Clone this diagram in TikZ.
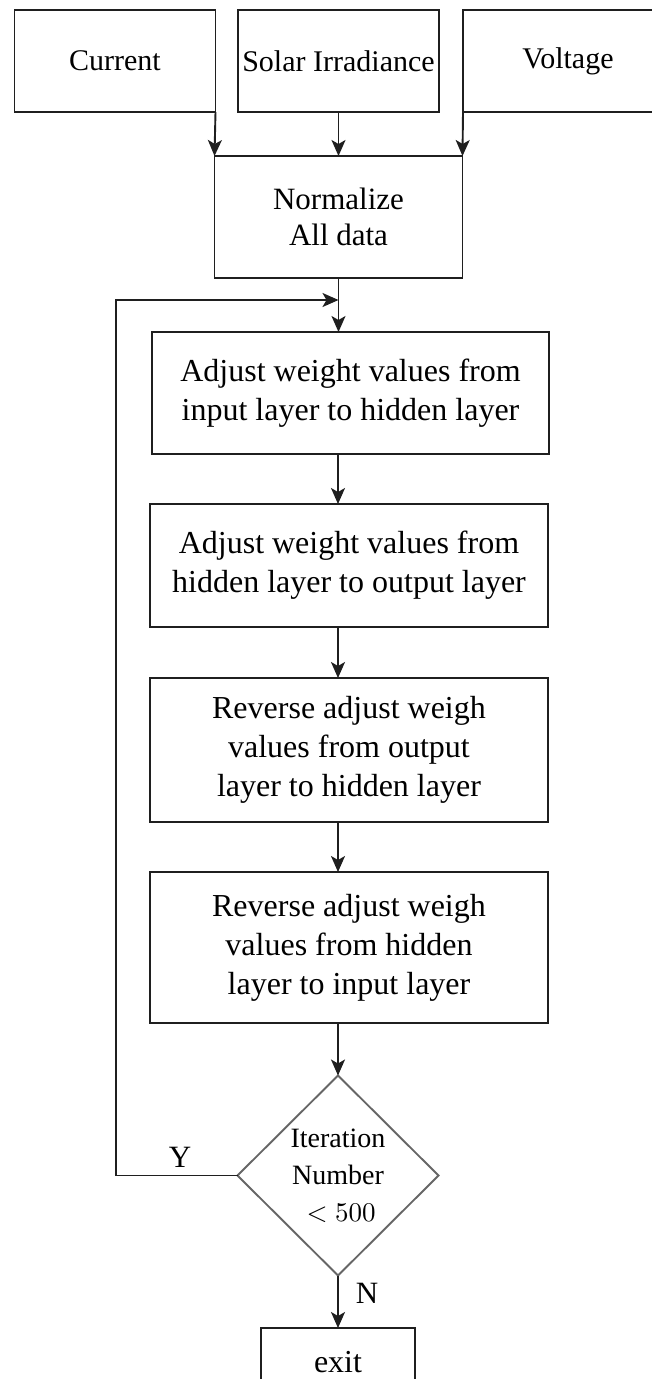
\documentclass[tikz,border=0pt]{standalone}
\usepackage{graphicx}
\usepackage[no-math]{fontspec}
\setmainfont{Liberation Serif}
\usetikzlibrary{arrows.meta,shapes.geometric}
\begin{document}
\begin{tikzpicture}[x=1pt,y=-1pt,
  box/.style={draw=black!88,line width=1.9pt,rectangle,inner sep=0pt,outer sep=0pt,align=center,
    font=\fontsize{32}{39}\selectfont},
  topbox/.style={box,minimum height=102pt,font=\fontsize{30}{36}\selectfont},
  decision/.style={draw=black!60,line width=1.9pt,diamond,aspect=1,inner sep=0pt,outer sep=0pt,
    minimum width=201pt,minimum height=200pt,align=center,font=\fontsize{28}{37}\selectfont},
  lbl/.style={font=\fontsize{31}{36}\selectfont,inner sep=0pt},
  arr/.style={draw=black!88,line width=1.9pt,-{Stealth[length=16pt,width=14pt,inset=4pt]}}
]
\useasboundingbox (0,0) rectangle (651,1379);

% top inputs
\node[topbox,minimum width=201pt] (cur) at (115,61) {Current};
\node[topbox,minimum width=201pt] (sol) at (338.5,61) {Solar Irradiance};
\node[topbox,minimum width=210pt] (vol) at (568,61) {Voltage};

% normalize
\node[box,minimum width=248pt,minimum height=122pt,font=\fontsize{31}{36}\selectfont] (norm) at (338.5,217) {Normalize\\ All data};

% processing boxes
\node[box,minimum width=397pt,minimum height=122pt] (b1) at (350.5,393) {Adjust weight values from\\input layer to hidden layer};
\node[box,minimum width=398pt,minimum height=123pt] (b2) at (349,565.5) {Adjust weight values from\\hidden layer to output layer};
\node[box,minimum width=398pt,minimum height=144pt] (b3) at (349,750) {Reverse adjust weigh\\values from output\\layer to hidden layer};
\node[box,minimum width=398pt,minimum height=151pt] (b4) at (349,947.5) {Reverse adjust weigh\\values from hidden\\layer to input layer};

% decision
\node[decision] (dec) at (338,1175.5) {Iteration\\Number\\\hspace*{6pt}\scalebox{2.7}{\normalsize$<500$}};

% exit
\node[box,minimum width=154pt,minimum height=68pt] (ex) at (338,1362) {exit};

% connectors
\draw[arr] (cur.south east) -- (norm.north west);
\draw[arr] (sol.south) -- (sol.south |- norm.north);
\draw[arr] (vol.south west) -- (norm.north east);

\coordinate (j) at (338.5,300);
\coordinate (lc) at (116,300);
\draw[arr] (norm.south) -- (norm.south |- b1.north);
\draw[arr] (dec.west) -| (lc) -- (j);

\draw[arr] (b1.south -| dec.north) -- (b2.north -| dec.north);
\draw[arr] (b2.south -| dec.north) -- (b3.north -| dec.north);
\draw[arr] (b3.south -| dec.north) -- (b4.north -| dec.north);
\draw[arr] (b4.south -| dec.north) -- (dec.north);
\draw[arr] (dec.south) -- (ex.north);

% labels
\node[lbl] (ylab) at (180,1157) {Y};
\node[lbl] (nlab) at (367,1293) {N};
\end{tikzpicture}
\end{document}
